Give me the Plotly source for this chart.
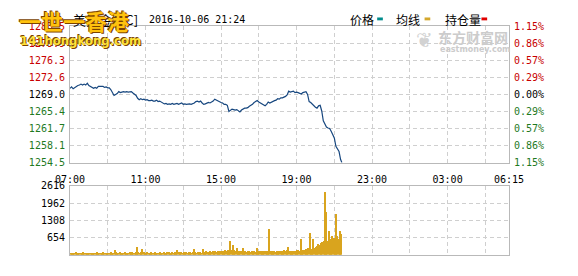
import plotly.graph_objects as go

W, H = 578, 276

# ---------------- data ----------------
# price, sampled every 5 minutes from 07:00 (minutes since 07:00)
price_minutes = list(range(0, 865, 5)) + [864]
price_values = [
    1270.3, 1270.6, 1270.2, 1270.5, 1270.8, 1270.9, 1271.0, 1271.2, 1271.0, 1271.2, 1271.0, 1271.4,
    1270.9, 1270.7, 1270.6, 1270.3, 1270.5, 1270.3, 1270.7, 1270.7, 1270.6, 1270.7, 1270.5, 1270.6,
    1270.4, 1270.4, 1270.0, 1269.3, 1268.8, 1269.0, 1269.2, 1269.6, 1269.4, 1269.5, 1269.6, 1269.5,
    1269.6, 1269.5, 1269.6, 1269.6, 1269.3, 1269.1, 1268.8, 1268.2, 1267.9, 1268.1, 1267.9, 1268.0,
    1267.8, 1267.9, 1267.7, 1267.7, 1267.8, 1267.6, 1267.6, 1267.8, 1267.5, 1267.6, 1267.4, 1267.3,
    1267.0, 1267.1, 1266.9, 1267.0, 1266.9, 1267.1, 1266.9, 1267.0, 1267.1, 1266.9, 1267.0, 1267.2,
    1266.9, 1267.0, 1266.9, 1267.0, 1267.0, 1266.9, 1267.0, 1267.2, 1267.5, 1267.6, 1267.4, 1267.6,
    1267.2, 1266.9, 1267.0, 1267.2, 1267.3, 1267.2, 1267.4, 1267.6, 1268.0, 1267.8, 1267.7, 1267.5,
    1267.3, 1267.2, 1266.9, 1266.9, 1266.7, 1265.4, 1265.6, 1265.9, 1265.8, 1265.7, 1265.8, 1265.6,
    1265.3, 1265.7, 1265.9, 1266.1, 1266.1, 1266.2, 1266.5, 1266.7, 1266.9, 1267.3, 1267.6, 1267.7,
    1267.4, 1267.2, 1267.0, 1266.7, 1266.6, 1266.9, 1267.4, 1267.2, 1267.4, 1267.6, 1267.7, 1267.8,
    1268.1, 1268.0, 1268.3, 1268.3, 1268.4, 1268.6, 1268.9, 1269.7, 1269.5, 1269.6, 1269.7, 1269.4,
    1269.5, 1269.4, 1269.3, 1269.1, 1269.4, 1269.5, 1269.6, 1269.0, 1267.5, 1267.3, 1266.9, 1266.6,
    1266.3, 1266.1, 1266.6, 1266.7, 1265.5, 1263.4, 1262.7, 1262.1, 1261.9, 1261.8, 1261.2, 1260.3,
    1259.8, 1258.0, 1257.5, 1256.9, 1255.2,
    1254.6,
]

# volume, one bar per 4 minutes from 07:00
volume_minutes = list(range(0, 864, 4))
volume_values = [
    80, 60, 90, 70, 110, 60, 80, 70, 90, 60, 100, 70, 80, 90, 60,
    70, 80, 60, 90, 70, 80, 100, 60, 70, 90, 80, 110, 70, 90, 80,
    90, 80, 100, 70, 90, 200, 110, 80, 90, 100, 70, 80, 90, 110, 80,
    90, 80, 100, 70, 110, 90, 80, 100, 300, 120, 90, 100, 240, 110, 90,
    80, 100, 90, 70, 110, 80, 90, 100, 80, 90, 70, 100, 90, 80, 110,
    90, 80, 100, 110, 90, 80, 100, 90, 110, 80, 180, 100, 90, 100, 80,
    100, 90, 110, 80, 120, 100, 90, 110, 240, 100, 90, 120, 100, 110, 90,
    240, 110, 100, 130, 120, 110, 140, 120, 130, 110, 150, 120, 130, 160, 140,
    130, 150, 140, 170, 140, 200, 150, 510, 200, 360, 180, 160, 250, 140, 150,
    140, 150, 250, 130, 150, 120, 140, 130, 120, 150, 130, 140, 120, 280, 160,
    150, 130, 120, 140, 130, 160, 120, 150, 970, 130, 120, 140, 130, 110, 140,
    120, 140, 130, 150, 130, 170, 140, 200, 300, 150, 130, 140, 150, 160, 150,
    170, 180, 160, 605, 200, 180, 170, 220, 190, 250, 845, 210, 230, 600, 260,
    300, 350, 420, 380, 450, 500, 520, 2385, 1630, 520, 900, 600, 480, 725, 650,
    650, 1540, 725, 620, 900, 790,
]

# axes
x_total = 1395  # 07:00 -> 06:15 next day
x_tick_minutes = [0, 120, 240, 360, 480, 600, 720, 840, 960, 1080, 1200, 1320, 1395]
x_tick_labels = ["07:00", "", "11:00", "", "15:00", "", "19:00", "", "23:00", "", "03:00", "", "06:15"]

price_ticks = [1254.5, 1258.125, 1261.75, 1265.375, 1269.0, 1272.625, 1276.25, 1279.875, 1283.5]
price_labels = ["1254.5", "1258.1", "1261.7", "1265.4", "1269.0", "1272.6", "1276.3", "1279.9", "1283.5"]
pct_labels = ["1.15%", "0.86%", "0.57%", "0.29%", "0.00%", "0.29%", "0.57%", "0.86%", "1.15%"]
label_colors = ["#1f7a1f"] * 4 + ["#000000"] + ["#c80000"] * 4

vol_ticks = [0, 654, 1308, 1962, 2616]
vol_labels = ["", "654", "1308", "1962", "2616"]

legend_names = ["价格", "均线", "持仓量"]
legend_colors = ["#008c8c", "#d4a72c", "#e00000"]

title_name = "美黄金[GC]"
title_time = "2016-10-06 21:24"

# ---------------- helpers ----------------
def px(x):
    return x / W

def py(y):
    return 1 - y / H

def colored(labels, colors):
    return ["<span style='color:%s'>%s</span>" % (c, t) for t, c in zip(labels, colors)]

MONO = "DejaVu Sans Mono"
CJK = "Noto Sans CJK SC"
GRID = "#cfcfcf"
BORDER = "#b9b9b9"

fig = go.Figure()

fig.add_trace(go.Bar(
    x=[m + 2 for m in volume_minutes], y=volume_values, width=4,
    marker=dict(color="#d9a41e", line=dict(width=0)),
    xaxis="x2", yaxis="y2", hoverinfo="skip", showlegend=False,
))
fig.add_trace(go.Scatter(
    x=price_minutes, y=price_values, mode="lines",
    line=dict(color="#17477f", width=1.2),
    xaxis="x", yaxis="y", hoverinfo="skip", showlegend=False,
))
# carrier for the right-hand percent axis
fig.add_trace(go.Scatter(
    x=[price_minutes[0]], y=[price_values[0]], mode="markers",
    marker=dict(opacity=0), xaxis="x", yaxis="y3",
    hoverinfo="skip", showlegend=False,
))

xdom = [px(58), px(521)]
common_x = dict(
    range=[0, x_total], tickmode="array", tickvals=x_tick_minutes,
    showgrid=True, gridcolor=GRID, griddash="4px,3px", gridwidth=1,
    showline=True, linecolor=BORDER, mirror=True, zeroline=False,
    fixedrange=True,
)

fig.update_layout(
    width=W, height=H, margin=dict(l=0, r=0, t=0, b=0),
    paper_bgcolor="white", plot_bgcolor="white",
    bargap=0, showlegend=False,
    font=dict(family=MONO, size=10, color="#000"),
    xaxis=dict(
        domain=xdom, anchor="y", ticktext=x_tick_labels,
        ticks="outside", ticklen=7, tickcolor="rgba(0,0,0,0)",
        tickfont=dict(family=MONO, size=10, color="#000"),
        **common_x,
    ),
    xaxis2=dict(
        domain=xdom, anchor="y2", matches="x", showticklabels=False,
        **common_x,
    ),
    yaxis=dict(
        domain=[py(164), py(21)], anchor="x",
        range=[price_ticks[0], price_ticks[-1]],
        tickmode="array", tickvals=price_ticks,
        ticktext=colored(price_labels, label_colors),
        ticks="outside", ticklen=2, tickcolor="rgba(0,0,0,0)",
        tickfont=dict(family=MONO, size=10),
        showgrid=True, gridcolor=GRID, griddash="4px,3px",
        showline=True, linecolor=BORDER, mirror=True, zeroline=False,
        fixedrange=True,
    ),
    yaxis3=dict(
        overlaying="y", side="right", anchor="x",
        range=[price_ticks[0], price_ticks[-1]],
        tickmode="array", tickvals=price_ticks,
        ticktext=colored(pct_labels, label_colors),
        ticks="outside", ticklen=2, tickcolor="rgba(0,0,0,0)",
        tickfont=dict(family=MONO, size=10),
        showgrid=False, zeroline=False, showline=False, fixedrange=True,
    ),
    yaxis2=dict(
        domain=[py(260), py(188)], anchor="x2",
        range=[0, vol_ticks[-1]],
        tickmode="array", tickvals=vol_ticks, ticktext=vol_labels,
        ticks="outside", ticklen=2, tickcolor="rgba(0,0,0,0)",
        tickfont=dict(family=MONO, size=10, color="#000"),
        showgrid=True, gridcolor=GRID, griddash="4px,3px",
        showline=True, linecolor=BORDER, mirror=True, zeroline=False,
        fixedrange=True,
    ),
)

ann = []
shapes = []

# title
ann.append(dict(x=px(59), y=py(14), xref="paper", yref="paper", xanchor="left", yanchor="middle",
                text=title_name, showarrow=False, font=dict(family=CJK, size=13, color="#000")))
ann.append(dict(x=px(139), y=py(14), xref="paper", yref="paper", xanchor="left", yanchor="middle",
                text=title_time, showarrow=False, font=dict(family=MONO, size=10, color="#000")))

# legend
leg_text_x = [351, 400, 451]
leg_mark_x = [382, 432, 492]
for name, col, tx, mx in zip(legend_names, legend_colors, leg_text_x, leg_mark_x):
    ann.append(dict(x=px(tx), y=py(14), xref="paper", yref="paper", xanchor="left", yanchor="middle",
                    text=name, showarrow=False, font=dict(family=CJK, size=12, color="#000")))
    shapes.append(dict(type="rect", xref="paper", yref="paper",
                       x0=px(mx), x1=px(mx + 6), y0=py(15), y1=py(12),
                       fillcolor=col, line=dict(width=0)))

# eastmoney watermark
ann.append(dict(x=px(432), y=py(36), xref="paper", yref="paper", xanchor="center", yanchor="middle",
                text="<b>❦</b>", showarrow=False, font=dict(family="DejaVu Sans", size=20, color="#d2d2d2")))
ann.append(dict(x=px(444), y=py(32), xref="paper", yref="paper", xanchor="left", yanchor="middle",
                text="<b>东方财富网</b>", showarrow=False, font=dict(family=CJK, size=14, color="#cccccc")))
ann.append(dict(x=px(446), y=py(45), xref="paper", yref="paper", xanchor="left", yanchor="middle",
                text="<b>eastmoney.com</b>", showarrow=False, font=dict(family="DejaVu Sans", size=8, color="#cccccc")))

# 141hongkong logo (outlined text)
def outlined(text, x, y, size, fill, edge, family):
    for dx, dy in [(-1, -1), (1, 1)]:
        ann.append(dict(x=px(x + dx), y=py(y + dy), xref="paper", yref="paper", xanchor="left",
                        yanchor="middle", text="<b>%s</b>" % text, showarrow=False,
                        font=dict(family=family, size=size, color=edge)))
    ann.append(dict(x=px(x), y=py(y), xref="paper", yref="paper", xanchor="left", yanchor="middle",
                    text="<b>%s</b>" % text, showarrow=False, font=dict(family=family, size=size, color=fill)))

outlined("一世一香港", 2, 15, 22, "#ffc20e", "#7a4200", CJK)
outlined("141hongkong.com", 3, 36, 13,  "#ffe23a", "#7a4200",
         "DejaVu Sans Condensed, Liberation Sans Narrow, DejaVu Sans")

fig.update_layout(annotations=ann, shapes=shapes)

fig.write_html("out.html")
